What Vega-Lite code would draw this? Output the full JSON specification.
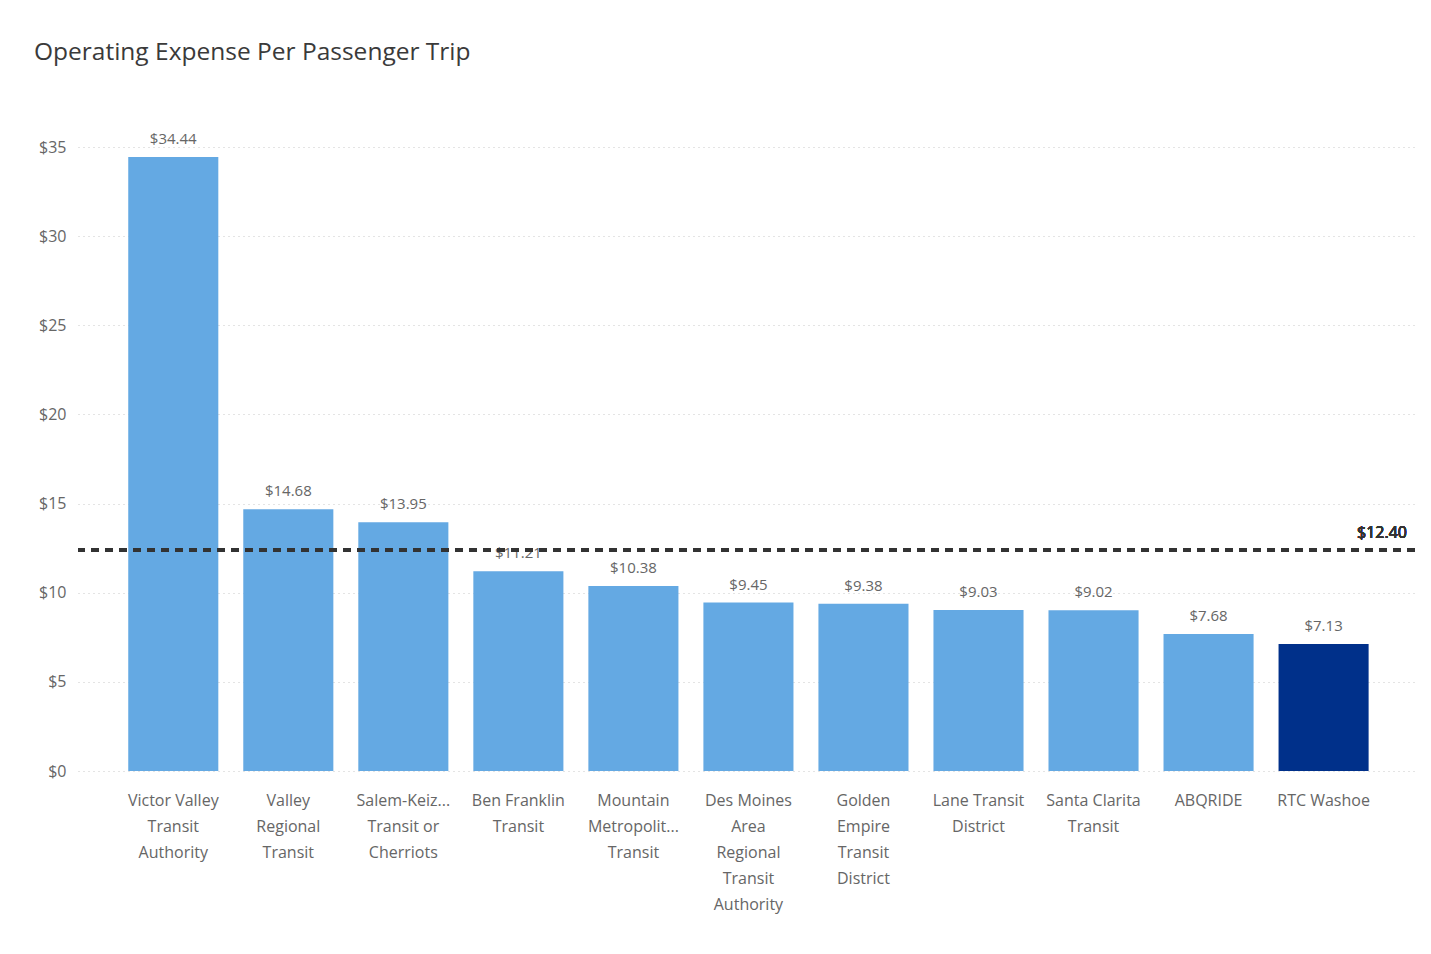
{
  "$schema": "https://vega.github.io/schema/vega-lite/v6.json",
  "autosize": {"type": "none"},
  "padding": {"left": 78, "top": 147, "right": 16, "bottom": 183},
  "width": 1337,
  "height": 624,
  "background": "white",
  "config": {
    "font": "Open Sans",
    "view": {"stroke": null}
  },
  "title": {
    "text": "Operating Expense Per Passenger Trip",
    "anchor": "start",
    "frame": "group",
    "dx": -44,
    "offset": 66,
    "fontSize": 24.5,
    "fontWeight": "normal",
    "color": "#3a3a3a"
  },
  "data": {
    "values": [
      {"agency": "Victor Valley\nTransit\nAuthority", "cost": 34.44, "group": "peer"},
      {"agency": "Valley\nRegional\nTransit", "cost": 14.68, "group": "peer"},
      {"agency": "Salem-Keiz...\nTransit or\nCherriots", "cost": 13.95, "group": "peer"},
      {"agency": "Ben Franklin\nTransit", "cost": 11.21, "group": "peer"},
      {"agency": "Mountain\nMetropolit...\nTransit", "cost": 10.38, "group": "peer"},
      {"agency": "Des Moines\nArea\nRegional\nTransit\nAuthority", "cost": 9.45, "group": "peer"},
      {"agency": "Golden\nEmpire\nTransit\nDistrict", "cost": 9.38, "group": "peer"},
      {"agency": "Lane Transit\nDistrict", "cost": 9.03, "group": "peer"},
      {"agency": "Santa Clarita\nTransit", "cost": 9.02, "group": "peer"},
      {"agency": "ABQRIDE", "cost": 7.68, "group": "peer"},
      {"agency": "RTC Washoe", "cost": 7.13, "group": "self"}
    ]
  },
  "layer": [
    {
      "mark": {"type": "bar"},
      "encoding": {
        "x": {
          "field": "agency",
          "type": "nominal",
          "sort": null,
          "scale": {"paddingInner": 0.217, "paddingOuter": 0.42, "align": 0.52},
          "axis": {
            "title": null,
            "labelAngle": 0,
            "labelExpr": "split(datum.value, '\\n')",
            "labelFontSize": 16,
            "labelColor": "#666666",
            "labelLineHeight": 26,
            "labelPadding": 21,
            "labelBaseline": "top",
            "ticks": false,
            "domain": false,
            "grid": false
          }
        },
        "y": {
          "field": "cost",
          "type": "quantitative",
          "scale": {"domain": [0, 35], "nice": false},
          "axis": {
            "title": null,
            "values": [0, 5, 10, 15, 20, 25, 30, 35],
            "format": "$.0f",
            "labelFontSize": 16,
            "labelColor": "#666666",
            "labelPadding": 12,
            "ticks": false,
            "domain": false,
            "gridColor": "#c8c8c8",
            "gridDash": [1, 4],
            "gridWidth": 1
          }
        },
        "color": {
          "field": "group",
          "type": "nominal",
          "scale": {"domain": ["peer", "self"], "range": ["#64a9e3", "#00308a"]},
          "legend": null
        }
      }
    },
    {
      "mark": {"type": "text", "baseline": "bottom", "dy": -10, "fontSize": 15, "color": "#666666"},
      "encoding": {
        "x": {"field": "agency", "type": "nominal", "sort": null},
        "y": {"field": "cost", "type": "quantitative"},
        "text": {"field": "cost", "type": "quantitative", "format": "$.2f"}
      }
    },
    {
      "mark": {"type": "rule", "color": "#333333", "strokeWidth": 3, "strokeDash": [8, 6]},
      "encoding": {
        "y": {"datum": 12.4}
      }
    },
    {
      "mark": {"type": "text", "align": "right", "baseline": "bottom", "dx": -8, "dy": -9, "fontSize": 16, "color": "#333333"},
      "encoding": {
        "x": {"value": "width"},
        "y": {"datum": 12.4},
        "text": {"value": "$12.40"}
      }
    }
  ]
}
